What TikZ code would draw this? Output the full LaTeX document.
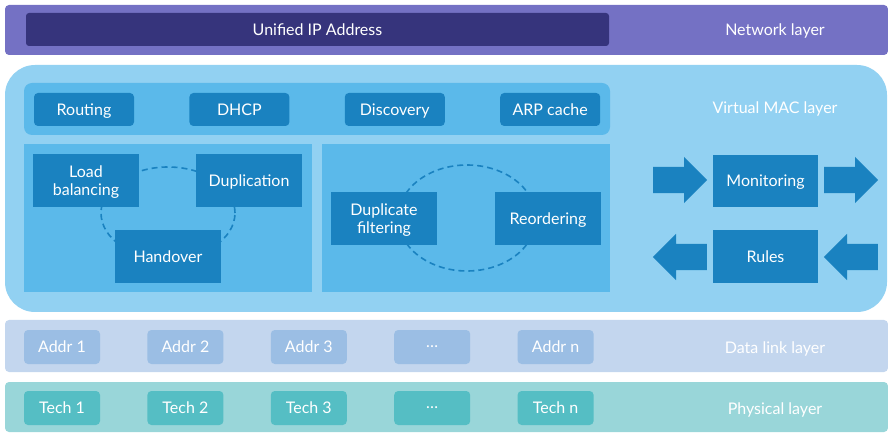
\documentclass[tikz,border=0pt]{standalone}
\usepackage{fontspec}
\setmainfont{Lato}
\usepackage{tikz}
\usetikzlibrary{shapes.arrows, positioning}
\definecolor{netpurple}{RGB}{116, 113, 196}
\definecolor{ipdark}{RGB}{54, 52, 124}
\definecolor{macband}{RGB}{146, 209, 242}
\definecolor{macpanel}{RGB}{91, 185, 234}
\definecolor{macbox}{RGB}{26, 130, 192}
\definecolor{linkband}{RGB}{195, 214, 238}
\definecolor{linkbox}{RGB}{155, 190, 228}
\definecolor{phyband}{RGB}{153, 214, 217}
\definecolor{phybox}{RGB}{85, 190, 196}

\begin{document}
\begin{tikzpicture}[
    x=1pt, y=-1pt,
    every node/.style={text=white, font=\fontsize{16}{18}\selectfont, inner sep=0pt,
                       text depth=0pt, align=center},
    band/.style={minimum width=883pt, rounded corners=4pt},
    panel/.style={fill=macpanel, minimum width=288pt, minimum height=148pt},
    func/.style={fill=macbox, minimum width=106pt, minimum height=53pt},
    button/.style={fill=macbox, rounded corners=4pt, minimum width=100pt, minimum height=33pt},
    slot/.style={rounded corners=4pt, minimum width=76pt, minimum height=34pt},
    flow/.style={single arrow, fill=macbox, anchor=tail, minimum height=54pt, inner xsep=0pt,
                 inner ysep=13pt, single arrow head extend=10pt, single arrow tip angle=90},
    cycle/.style={draw=macbox, dashed, line width=1.6pt, dash pattern=on 6pt off 4pt}
]
    \useasboundingbox (0,0) rectangle (888,435);

    % Network layer
    \node[band, fill=netpurple, minimum height=50pt] (netband) at (446.5,30) {};
    \node[fill=ipdark, rounded corners=3pt, minimum width=583pt, minimum height=33pt] (ip) at (317.5,29.5) {Unified IP Address};
    \node (netlabel) at (775,30) {Network layer};

    % Virtual MAC layer
    \node[fill=macband, rounded corners=30pt, minimum width=882pt, minimum height=247pt] (macband) at (446,188.5) {};
    \node (maclabel) at (775,108) {Virtual MAC layer};
    \node[fill=macpanel, rounded corners=8pt, minimum width=586pt, minimum height=52pt] (services) at (317,109) {};
    \node[button] (routing) at (84,109.5) {Routing};
    \node[button, right=55pt of routing] (dhcp) {DHCP};
    \node[button, right=55pt of dhcp] (discovery) {Discovery};
    \node[button, right=55pt of discovery] (arp) {ARP cache};

    % Sending side
    \node[panel] (sendpanel) at (168,218) {};
    \coordinate (sendcycle) at (168,213);
    \draw[cycle] (sendcycle) ellipse [x radius=67pt, y radius=46pt];
    \node[func] (loadbal) at (86,180.5) {Load\\balancing};
    \node[func] (duplication) at (249,180.5) {Duplication};
    \node[func] (handover) at (168,256.5) {Handover};

    % Receiving side
    \node[panel, right=10pt of sendpanel] (recvpanel) {};
    \coordinate (recvcycle) at (467,218);
    \draw[cycle] (recvcycle) ellipse [x radius=69pt, y radius=53pt];
    \node[func] (dupfilter) at (384,218.5) {Duplicate\\filtering};
    \node[func] (reorder) at (548,218.5) {Reordering};

    % Control
    \node[func, minimum width=105pt, minimum height=52pt] (monitoring) at (765.5,181) {Monitoring};
    \node[func, minimum width=105pt, minimum height=53pt] (rules) at (765.5,256.5) {Rules};
    \node[flow] (monin) at (653,180) {};
    \node[flow] (monout) at (824,180) {};
    \node[flow, shape border rotate=180] (rulesout) at (707,257) {};
    \node[flow, shape border rotate=180] (rulesin) at (878,257) {};

    % Data link layer
    \node[band, fill=linkband, minimum height=52pt] (linkband) at (446.5,346) {};
    \node[slot, fill=linkbox] (addr1) at (62,347) {Addr 1};
    \node[slot, fill=linkbox, right=47pt of addr1] (addr2) {Addr 2};
    \node[slot, fill=linkbox, right=47pt of addr2] (addr3) {Addr 3};
    \node[slot, fill=linkbox, right=47pt of addr3] (addrdots) {…};
    \node[slot, fill=linkbox, right=47pt of addrdots] (addrn) {Addr n};
    \node (linklabel) at (775,348) {Data link layer};

    % Physical layer
    \node[band, fill=phyband, minimum height=50pt] (phyband) at (446.5,407) {};
    \node[slot, fill=phybox] (tech1) at (62,408) {Tech 1};
    \node[slot, fill=phybox, right=47pt of tech1] (tech2) {Tech 2};
    \node[slot, fill=phybox, right=47pt of tech2] (tech3) {Tech 3};
    \node[slot, fill=phybox, right=47pt of tech3] (techdots) {…};
    \node[slot, fill=phybox, right=47pt of techdots] (techn) {Tech n};
    \node (phylabel) at (775,409) {Physical layer};
\end{tikzpicture}
\end{document}
